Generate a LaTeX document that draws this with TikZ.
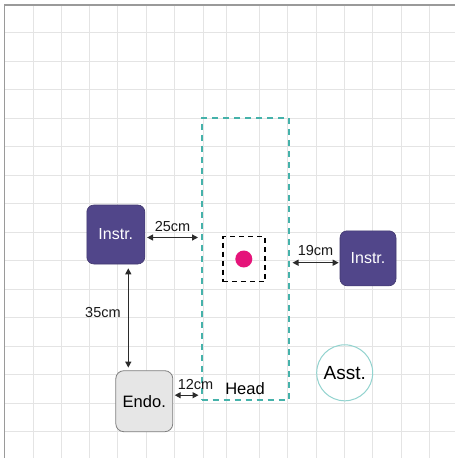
\documentclass[tikz,border=0pt]{standalone}
\usepackage{fontspec}
\setmainfont{Liberation Sans}
\usepackage{xcolor}
\usetikzlibrary{arrows.meta,positioning,calc}
\definecolor{instrpurple}{HTML}{51468A}
\definecolor{headteal}{HTML}{45B2AA}
\definecolor{assttea}{HTML}{92D3CF}
\definecolor{endogray}{HTML}{E6E6E6}
\definecolor{endoline}{HTML}{7F7F7F}
\definecolor{dotpink}{HTML}{E5147A}
\definecolor{gridgray}{HTML}{E4E4E4}
\definecolor{framegray}{HTML}{9A9A9A}
\definecolor{linegray}{HTML}{2B2B2B}

\begin{document}
\begin{tikzpicture}[
  x=1pt, y=-1pt,
  >={Triangle[length=6pt,width=6pt]},
  instr/.style={rectangle, fill=instrpurple, draw=instrpurple!80!black, line width=0.6pt, rounded corners=7pt, inner sep=0pt, text=white, font=\fontsize{16}{18}\selectfont},
  endobox/.style={rectangle, fill=endogray, draw=endoline, line width=0.8pt, rounded corners=8pt, inner sep=0pt, minimum width=57pt, minimum height=61pt, font=\fontsize{16.5}{18}\selectfont},
  headbox/.style={rectangle, draw=headteal, line width=2pt, dash pattern=on 6pt off 5pt, inner sep=0pt, minimum width=87pt, minimum height=282pt},
  dimarrow/.style={<->, draw=linegray, line width=1.3pt},
  dimlabel/.style={inner sep=0pt, text=black!90, font=\fontsize{14.5}{16}\selectfont}
]
  \useasboundingbox (0,0) rectangle (455,458);
  \fill[white] (0,0) rectangle (455,458);
  % grid
  \foreach \gx in {33.3,61.3,89.5,117.5,146,174.5,203,226,259.3,287.5,316,344.3,372.7,401,429.3}
    \draw[gridgray, line width=0.9pt] (\gx,5) -- (\gx,458);
  \foreach \k in {0,...,14}
    \draw[gridgray, line width=0.9pt] (4.5,32.7+28.5*\k) -- (455,32.7+28.5*\k);
  \draw[framegray, line width=1.6pt] (4.5,458) -- (4.5,5) -- (455,5);

  % head zone and target
  \node[headbox] (head) at (245,258.5) {};
  \node[font=\fontsize{16.5}{18}\selectfont, inner sep=0pt] (headtxt) at (245,389) {Head};
  \node[rectangle, draw=black, line width=1.5pt, dash pattern=on 5pt off 4pt, minimum width=42pt, minimum height=45pt, inner sep=0pt] (target) at (243.8,259) {};
  \node[circle, fill=dotpink, minimum size=17pt, inner sep=0pt] (dot) at (target.center) {};

  % team
  \node[instr, minimum width=58pt, minimum height=59pt] (instrL) at (115.8,234.5) {Instr.};
  \node[instr, minimum width=56pt, minimum height=55pt] (instrR) at (368,258.3) {Instr.};
  \node[endobox] (endo) at (144.3,401.2) {Endo.};
  \node[circle, draw=assttea, line width=1pt, minimum size=56pt, inner sep=0pt, font=\fontsize{19}{21}\selectfont] (asst) at (344.7,372.8) {Asst.};

  % distances
  \draw[dimarrow] ($(instrL.east)+(2,3)$) -- node[dimlabel, above=5pt] {25cm} ($(instrL.east -| head.west)+(-2.5,3)$);
  \draw[dimarrow] ($(instrR.west -| head.east)+(3,4.4)$) -- node[dimlabel, above=6pt] {19cm} ($(instrR.west)+(-1,4.4)$);
  \draw[dimarrow] ($(instrL.south)+(12.5,4)$) -- node[dimlabel, pos=0.45, left=7pt] {35cm} ($(instrL.south |- endo.north)+(12.5,-2.7)$);
  \draw[dimarrow] ($(endo.east)+(1.5,-6)$) -- node[dimlabel, above=5pt, xshift=9pt] {12cm} ($(endo.east -| head.west)+(-2,-6)$);
\end{tikzpicture}
\end{document}
